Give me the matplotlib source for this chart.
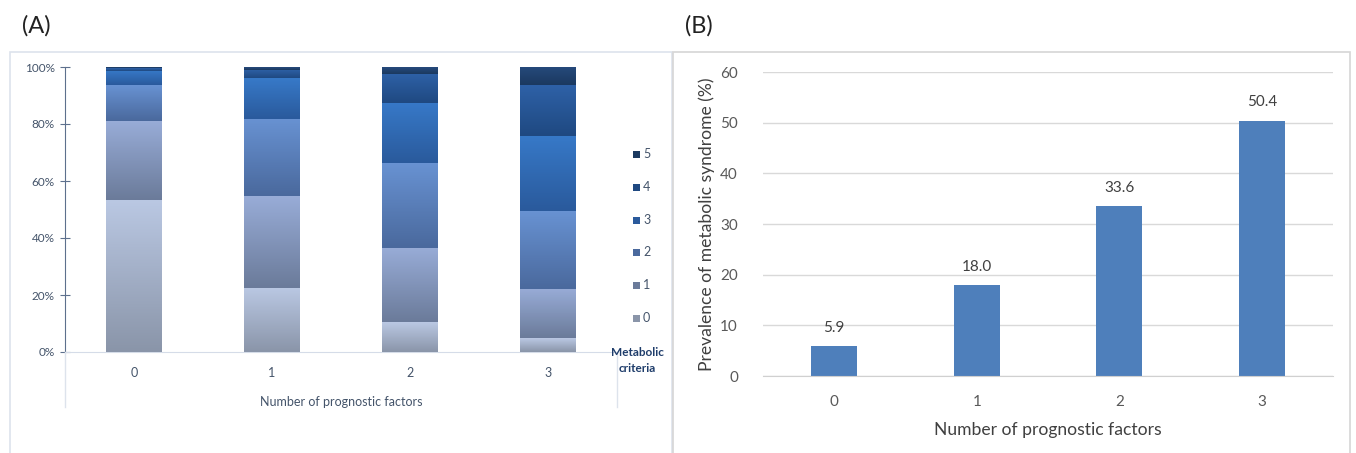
import matplotlib.pyplot as plt
import numpy as np
from matplotlib.colors import LinearSegmentedColormap
from matplotlib.patches import Rectangle
from matplotlib.lines import Line2D

plt.rcParams['font.family'] = ['Lato', 'DejaVu Sans']

# (A) share of each metabolic criteria count within each prognostic group (%)
factors = ['0', '1', '2', '3']
criteria = ['0', '1', '2', '3', '4', '5']
share = {
    '0': [53.4, 22.6, 10.5, 4.9],
    '1': [27.7, 32.2, 26.0, 17.2],
    '2': [12.5, 27.1, 29.7, 27.2],
    '3': [5.0, 14.1, 21.3, 26.6],
    '4': [1.0, 3.0, 10.2, 17.7],
    '5': [0.4, 1.0, 2.3, 6.4],
}
pct_ticks = [0, 20, 40, 60, 80, 100]

# (B) prevalence of metabolic syndrome (%)
prevalence = [5.9, 18.0, 33.6, 50.4]
prev_ticks = [0, 10, 20, 30, 40, 50, 60]

# gradient colours (top, bottom) for each criteria count
shades = {
    '0': ('#bac8e3', '#8a95a9'),
    '1': ('#98acd7', '#6b7b9a'),
    '2': ('#6892d2', '#4a699d'),
    '3': ('#3779c8', '#2a5a9c'),
    '4': ('#2e61a7', '#1f4981'),
    '5': ('#264a7c', '#1b3960'),
}

fig = plt.figure(figsize=(13.56, 4.53), dpi=100)
W, H = 1356, 453


def fx(px):
    return px / W


def fy(py):
    return 1 - py / H


# panel frames
fig.patches.append(Rectangle((fx(10), fy(460)), fx(662), fy(52) - fy(460),
                             transform=fig.transFigure, fill=False,
                             edgecolor='#dde3ec', lw=1.2))
fig.patches.append(Rectangle((fx(673), fy(460)), fx(677), fy(52) - fy(460),
                             transform=fig.transFigure, fill=False,
                             edgecolor='#d6d6d6', lw=1.2))
fig.text(fx(22), fy(26), '(A)', fontsize=17, va='center', ha='left', color='#222222')
fig.text(fx(685), fy(26), '(B)', fontsize=17, va='center', ha='left', color='#222222')

# ---------- (A) stacked percentage bars ----------
axA = fig.add_axes([fx(65), fy(352), fx(617) - fx(65), fy(67) - fy(352)])
x = np.arange(len(factors))
bottom = np.zeros(len(factors))
grad = np.linspace(0, 1, 64).reshape(-1, 1)
for c in criteria:
    vals = np.array(share[c])
    bars = axA.bar(x, vals, 0.4, bottom=bottom, color=shades[c][1], lw=0, zorder=2)
    cmap = LinearSegmentedColormap.from_list('g' + c, [shades[c][1], shades[c][0]])
    for b in bars:
        axA.imshow(grad, cmap=cmap, origin='lower', aspect='auto', zorder=3,
                   extent=(b.get_x(), b.get_x() + b.get_width(),
                           b.get_y(), b.get_y() + b.get_height()))
    bottom += vals

axA.set_xlim(-0.5, 3.5)
axA.set_ylim(0, 100)
axA.set_yticks(pct_ticks)
axA.set_yticklabels([f'{t}%' for t in pct_ticks])
axA.set_xticks(x)
axA.set_xticklabels(factors)
for s in ['top', 'right']:
    axA.spines[s].set_visible(False)
axA.spines['left'].set_color('#5d708d')
axA.spines['bottom'].set_color('#d5dce8')
axA.tick_params(axis='y', direction='inout', length=7, color='#5d708d',
                labelsize=8.5, labelcolor='#44546a', pad=4)
axA.tick_params(axis='x', length=0, labelsize=9, labelcolor='#44546a', pad=11)
axA.set_xlabel('Number of prognostic factors', fontsize=9, color='#44546a', labelpad=12)

# light lines below the category axis
for px in (65, 617):
    fig.add_artist(Line2D([fx(px), fx(px)], [fy(352), fy(407)],
                          transform=fig.transFigure, color='#dde3ec', lw=1))

# legend for criteria counts, top to bottom 5..0
leg_y = [154, 187, 220, 252, 285, 318]
for c, py in zip(criteria[::-1], leg_y):
    fig.patches.append(Rectangle((fx(633), fy(py + 4)), fx(7), fy(0) - fy(7),
                                 transform=fig.transFigure,
                                 facecolor=shades[c][1], edgecolor='none'))
    fig.text(fx(643), fy(py), c, fontsize=9, va='center', ha='left', color='#44546a')
fig.text(fx(637), fy(352), 'Metabolic', fontsize=8.5, fontweight='bold',
         va='center', ha='center', color='#1f3d6b')
fig.text(fx(637), fy(369), 'criteria', fontsize=8.5, fontweight='bold',
         va='center', ha='center', color='#1f3d6b')

# ---------- (B) prevalence bars ----------
axB = fig.add_axes([fx(763), fy(376), fx(1333) - fx(763), fy(72) - fy(376)])
bars = axB.bar(x, prevalence, 0.32, color='#4e7fbb', zorder=2)
for b, v in zip(bars, prevalence):
    axB.text(b.get_x() + b.get_width() / 2, v + 2.2, f'{v:.1f}', ha='center',
             va='bottom', fontsize=11, color='#404040')
axB.set_xlim(-0.5, 3.5)
axB.set_ylim(0, 60)
axB.set_yticks(prev_ticks)
axB.set_xticks(x)
axB.set_xticklabels(factors)
axB.grid(axis='y', color='#d9d9d9', lw=1, zorder=0)
for s in ['top', 'right', 'left']:
    axB.spines[s].set_visible(False)
axB.spines['bottom'].set_color('#d0d0d0')
axB.tick_params(axis='both', length=0, labelsize=11, labelcolor='#595959')
axB.tick_params(axis='y', pad=18)
axB.tick_params(axis='x', pad=14)
axB.set_ylabel('Prevalence of metabolic syndrome (%)', fontsize=12.6, color='#404040', labelpad=4)
axB.set_xlabel('Number of prognostic factors', fontsize=12.6, color='#404040', labelpad=9)

fig.savefig('out.png', dpi=100)
